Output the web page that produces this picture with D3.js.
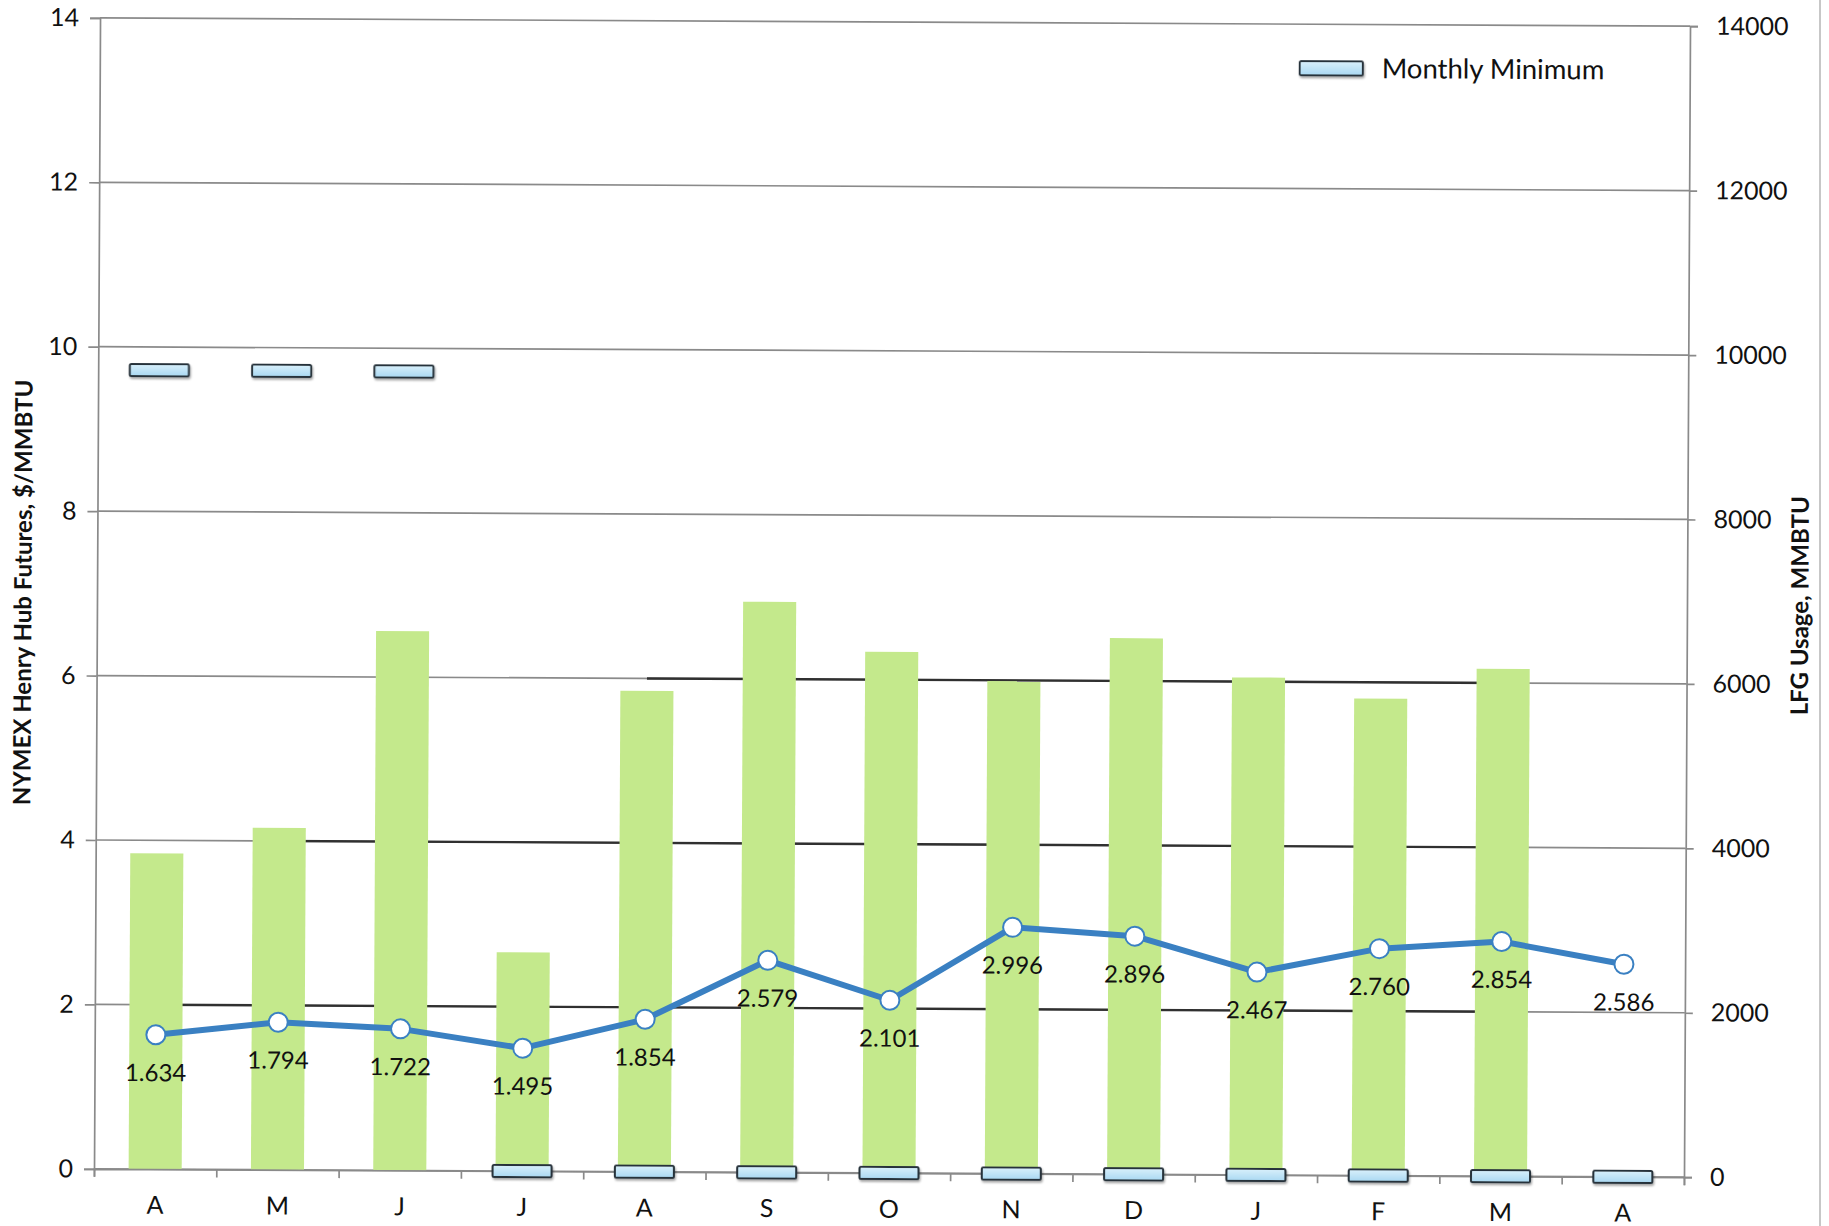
<!DOCTYPE html>
<html>
<head>
<meta charset="utf-8">
<script src="https://cdn.jsdelivr.net/npm/d3@7"></script>
<style>
  body { margin: 0; background: #fff; }
  svg text { font-family: Lato, "Open Sans", sans-serif; fill: #111; }
</style>
</head>
<body>
<div id="chart"></div>
<script>
// months Apr .. Apr
const months = ["A", "M", "J", "J", "A", "S", "O", "N", "D", "J", "F", "M", "A"];
// LFG usage, MMBTU (right axis) - no bar for the last month
const usage = [3840, 4160, 6560, 2660, 5850, 6940, 6340, 5990, 6520, 6050, 5800, 6170, null];
// NYMEX Henry Hub futures, $/MMBTU (left axis)
const price = [1.634, 1.794, 1.722, 1.495, 1.854, 2.579, 2.101, 2.996, 2.896, 2.467, 2.760, 2.854, 2.586];
// monthly minimum, MMBTU (right axis)
const minimum = [9720, 9720, 9720, 0, 0, 0, 0, 0, 0, 0, 0, 0, 0];

const leftTicks = [0, 2, 4, 6, 8, 10, 12, 14];
const rightTicks = [0, 2000, 4000, 6000, 8000, 10000, 12000, 14000];
// darker stretches of the 2/4/6 gridlines, from bar index to bar index
const darkGrid = [
  { v: 2, from: 0, to: 11 },
  { v: 4, from: 1, to: 11 },
  { v: 6, from: 4, to: 11 },
];

const W = 1829, H = 1226;
const x0 = 97, x1 = 1687, yTop = 22, yBot = 1173;

const svg = d3.select("#chart").append("svg")
  .attr("width", W).attr("height", H);

const defs = svg.append("defs");
defs.append("filter").attr("id", "shadow")
  .attr("x", "-20%").attr("y", "-50%").attr("width", "140%").attr("height", "220%")
  .append("feDropShadow")
  .attr("dx", 1).attr("dy", 2).attr("stdDeviation", 1.2)
  .attr("flood-color", "#000").attr("flood-opacity", 0.35);
const grad = defs.append("linearGradient").attr("id", "minfill")
  .attr("x1", 0).attr("y1", 0).attr("x2", 0).attr("y2", 1);
grad.append("stop").attr("offset", "0%").attr("stop-color", "#d9f0fb");
grad.append("stop").attr("offset", "100%").attr("stop-color", "#a9d8f2");

// the scan is tilted slightly clockwise
const g = svg.append("g").attr("transform", "rotate(0.3, 890, 600)");

const x = d3.scaleBand().domain(d3.range(months.length)).range([x0, x1]);
const xEdge = d3.scaleLinear().domain([0, months.length]).range([x0, x1]);
const yL = d3.scaleLinear().domain([0, 14]).range([yBot, yTop]);
const yR = d3.scaleLinear().domain([0, 14000]).range([yBot, yTop]);
const cx = (i) => x(i) + x.bandwidth() / 2;

// gridlines
g.append("g").selectAll("line")
  .data(leftTicks)
  .join("line")
  .attr("x1", x0).attr("x2", x1)
  .attr("y1", (d) => yL(d)).attr("y2", (d) => yL(d))
  .attr("stroke", "#8a8a8a").attr("stroke-width", 1.7);

g.append("g").selectAll("line")
  .data(darkGrid)
  .join("line")
  .attr("x1", (d) => cx(d.from)).attr("x2", (d) => cx(d.to))
  .attr("y1", (d) => yL(d.v)).attr("y2", (d) => yL(d.v))
  .attr("stroke", "#303030").attr("stroke-width", 2.4);

// bars
const bw = x.bandwidth() * 0.434;
g.append("g").selectAll("rect")
  .data(usage.map((v, i) => ({ v, i })).filter((d) => d.v != null))
  .join("rect")
  .attr("x", (d) => cx(d.i) - bw / 2)
  .attr("width", bw)
  .attr("y", (d) => yR(d.v))
  .attr("height", (d) => yR(0) - yR(d.v))
  .attr("fill", "#c4e98c");

// axes
const axL = g.append("g")
  .attr("transform", `translate(${x0},0)`)
  .call(d3.axisLeft(yL).tickValues(leftTicks).tickSize(10).tickPadding(11).tickFormat(d3.format("d")));
const axR = g.append("g")
  .attr("transform", `translate(${x1},0)`)
  .call(d3.axisRight(yR).tickValues(rightTicks).tickSize(8).tickPadding(18).tickFormat(d3.format("d")));
const axB = g.append("g")
  .attr("transform", `translate(0,${yBot})`)
  .call(d3.axisBottom(xEdge).tickValues(d3.range(months.length + 1)).tickSize(8).tickFormat(""));
const axLab = g.append("g")
  .attr("transform", `translate(0,${yBot})`)
  .call(d3.axisBottom(x).tickSize(0).tickPadding(26).tickFormat((i) => months[i]));
axLab.select(".domain").remove();

[axL, axR, axB].forEach((a) => {
  a.selectAll(".domain").attr("stroke", "#8a8a8a").attr("stroke-width", 1.7);
  a.selectAll(".tick line").attr("stroke", "#8a8a8a").attr("stroke-width", 1.7);
});
axL.selectAll("text").style("font-size", "25px");
axR.selectAll("text").style("font-size", "25px");
axLab.selectAll("text").style("font-size", "25px").attr("dy", "0.75em");

// monthly minimum markers
const mw = 59, mh = 12;
g.append("g").selectAll("rect")
  .data(minimum)
  .join("rect")
  .attr("x", (d, i) => cx(i) - mw / 2)
  .attr("y", (d) => yR(d) - mh / 2)
  .attr("width", mw).attr("height", mh)
  .attr("rx", 1.5)
  .attr("fill", "url(#minfill)")
  .attr("stroke", "#26323a").attr("stroke-width", 2)
  .attr("filter", "url(#shadow)");

// price line
const line = d3.line().x((d, i) => cx(i)).y((d) => yL(d));
g.append("path")
  .datum(price)
  .attr("d", line)
  .attr("fill", "none")
  .attr("stroke", "#3a80c2")
  .attr("stroke-width", 6)
  .attr("stroke-linejoin", "round");

g.append("g").selectAll("circle")
  .data(price)
  .join("circle")
  .attr("cx", (d, i) => cx(i))
  .attr("cy", (d) => yL(d))
  .attr("r", 9.5)
  .attr("fill", "#fff")
  .attr("stroke", "#3a80c2")
  .attr("stroke-width", 2);

g.append("g").selectAll("text")
  .data(price)
  .join("text")
  .attr("x", (d, i) => cx(i))
  .attr("y", (d) => yL(d) + 38)
  .attr("dy", "0.35em")
  .attr("text-anchor", "middle")
  .style("font-size", "24px")
  .text((d) => d3.format(".3f")(d));

// axis titles
g.append("text")
  .attr("transform", "translate(23,597) rotate(-90)")
  .attr("text-anchor", "middle")
  .attr("dy", "0.35em")
  .style("font-size", "24px").style("font-weight", "bold")
  .text("NYMEX Henry Hub Futures, $/MMBTU");

g.append("text")
  .attr("transform", "translate(1800,601) rotate(-90)")
  .attr("text-anchor", "middle")
  .attr("dy", "0.35em")
  .style("font-size", "24px").style("font-weight", "bold")
  .text("LFG Usage, MMBTU");

// legend
const lg = g.append("g").attr("transform", "translate(1297,59)");
lg.append("rect")
  .attr("width", 63).attr("height", 14).attr("rx", 1.5)
  .attr("fill", "url(#minfill)")
  .attr("stroke", "#26323a").attr("stroke-width", 2)
  .attr("filter", "url(#shadow)");
lg.append("text")
  .attr("x", 82).attr("y", 7).attr("dy", "0.35em")
  .style("font-size", "27.5px")
  .text("Monthly Minimum");

// scan edge on the right
svg.append("line")
  .attr("x1", 1820).attr("x2", 1820).attr("y1", 0).attr("y2", H)
  .attr("stroke", "#b5b5b5").attr("stroke-width", 1.5);
</script>
</body>
</html>
